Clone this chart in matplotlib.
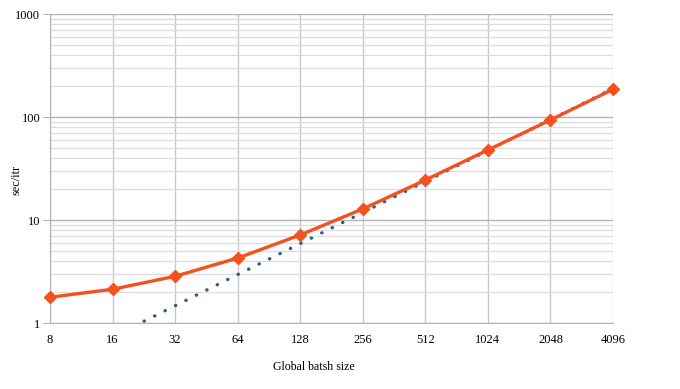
import matplotlib
matplotlib.use("Agg")
import matplotlib.pyplot as plt
from matplotlib.ticker import FixedLocator, NullFormatter

categories = ["8", "16", "32", "64", "128", "256", "512", "1024", "2048", "4096"]
sec_per_itr = [1.79, 2.14, 2.86, 4.3, 7.2, 12.9, 24.6, 48.2, 94.2, 187]
ideal_trend = [0.37, 0.74, 1.48, 2.97, 5.94, 11.9, 23.8, 47.5, 95, 190]

plt.rcParams['font.family'] = ['Liberation Serif', 'DejaVu Serif']

W, H = 680, 389
fig = plt.figure(figsize=(W / 100, H / 100), dpi=100)
left, right, top, bottom = 50, 613, 14.3, 323.3
ax = fig.add_axes([left / W, 1 - bottom / H, (right - left) / W, (bottom - top) / H])

x = list(range(len(categories)))
ax.set_yscale('log')
ax.set_ylim(1, 1000)
ax.set_xlim(0, len(categories) - 1)

ax.yaxis.set_major_locator(FixedLocator([1, 10, 100, 1000]))
minors = [m * 10 ** e for e in range(0, 3) for m in range(2, 10)]
ax.yaxis.set_minor_locator(FixedLocator(minors))
ax.yaxis.set_minor_formatter(NullFormatter())
ax.set_yticklabels(["1", "10", "100", "1000"])
ax.set_xticks(x)
ax.set_xticklabels(categories)

ax.grid(True, which='major', axis='y', color='#b3b3b3', linewidth=1.0)
ax.grid(True, which='minor', axis='y', color='#dcdcdc', linewidth=0.9)
ax.grid(True, which='major', axis='x', color='#c8c8c8', linewidth=1.0)
ax.set_axisbelow(True)

for s in ['top', 'right']:
    ax.spines[s].set_visible(False)
ax.spines['left'].set_color('#b3b3b3')
ax.spines['bottom'].set_color('#b3b3b3')

ax.tick_params(axis='y', which='major', length=5, color='#b3b3b3', labelsize=9, pad=2)
ax.tick_params(axis='y', which='minor', length=0)
ax.tick_params(axis='x', length=0, labelsize=9, pad=8)

ax.plot(x, ideal_trend, color='#2f5b8c', linewidth=2.4, linestyle=(0, (0.1, 3.4)),
        dash_capstyle='round', zorder=3, clip_on=True)
ax.plot(x, sec_per_itr, color='#f4511e', linewidth=2.4, marker='D', markersize=6.5,
        zorder=4, clip_on=False)

fig.text(314 / W, 1 - 366.5 / H, "Global batsh size", ha='center', va='center', fontsize=8.6)
fig.text(16 / W, 1 - 180 / H, "sec/itr", ha='center', va='center',
         rotation=90, fontsize=8.8)

fig.savefig("out.png", dpi=100)
